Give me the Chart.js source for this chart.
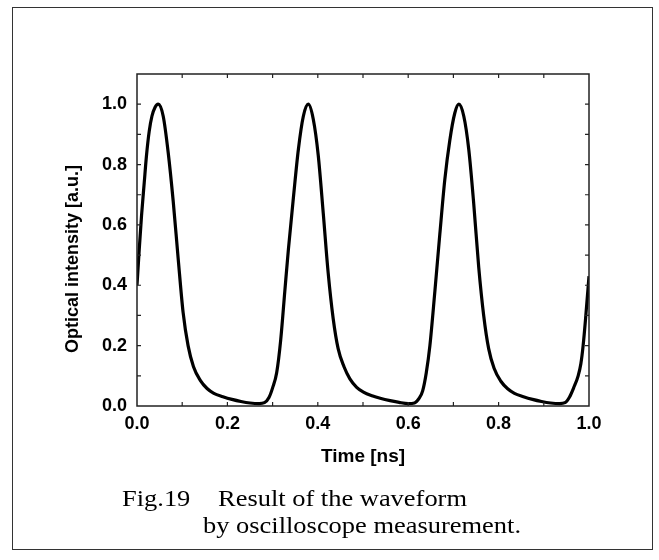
<!DOCTYPE html>
<html>
<head>
<meta charset="utf-8">
<script src="https://cdn.jsdelivr.net/npm/chart.js@4.4.1/dist/chart.umd.min.js"></script>
<style>
  body { margin: 0; background: #fff; }
  #wrap { position: relative; width: 659px; height: 560px; overflow: hidden; }
  #box { position: absolute; left: 12px; top: 7px; width: 639px; height: 541px; border: 1.5px solid #333; }
  canvas { position: absolute; left: 0; top: 0; }
  .cap { position: absolute; font-family: "Liberation Serif", "Times New Roman", serif; font-size: 23px; color: #000;
         white-space: nowrap; line-height: 1; transform: scaleX(1.15); transform-origin: left center; }
</style>
</head>
<body>
<div id="wrap">
  <div id="box"></div>
  <canvas id="waveChart" width="659" height="560"></canvas>
  <div class="cap" style="left:122px; top:487px;">Fig.19</div>
  <div class="cap" style="left:218px; top:487px;">Result of the waveform</div>
  <div class="cap" style="left:203px; top:514px;">by oscilloscope measurement.</div>
</div>
<script>
// waveform
const timeNs = [
  0.000, 0.005, 0.010, 0.016, 0.021, 0.027, 0.033, 0.040, 0.047,
  0.058, 0.069, 0.080, 0.091, 0.102, 0.113, 0.125, 0.140, 0.155, 0.170,
  0.190, 0.210, 0.230, 0.250, 0.270, 0.282, 0.292, 0.300, 0.309, 0.318,
  0.327, 0.335, 0.346, 0.357, 0.368, 0.379,
  0.390, 0.401, 0.412, 0.423, 0.434, 0.445, 0.458, 0.471, 0.486, 0.501,
  0.520, 0.540, 0.560, 0.580, 0.600, 0.614, 0.624, 0.632, 0.640, 0.648,
  0.659, 0.670, 0.681, 0.692, 0.703, 0.712,
  0.723, 0.734, 0.745, 0.756, 0.767, 0.778, 0.790, 0.805, 0.820, 0.835,
  0.855, 0.875, 0.895, 0.915, 0.935, 0.947, 0.957, 0.966, 0.976, 0.982,
  0.987, 0.993, 1.000
];
const intensity = [
  0.40, 0.52, 0.63, 0.74, 0.83, 0.91, 0.96, 0.99, 1.00,
  0.96, 0.84, 0.68, 0.49, 0.31, 0.20, 0.13, 0.085, 0.058, 0.042,
  0.031, 0.022, 0.015, 0.010, 0.008, 0.011, 0.028, 0.06, 0.11, 0.22,
  0.38, 0.52, 0.69, 0.85, 0.96, 1.00,
  0.95, 0.83, 0.64, 0.44, 0.29, 0.19, 0.13, 0.09, 0.062, 0.046,
  0.034, 0.025, 0.018, 0.012, 0.008, 0.010, 0.025, 0.05, 0.11, 0.20,
  0.38, 0.57, 0.75, 0.88, 0.97, 1.00,
  0.96, 0.85, 0.67, 0.46, 0.30, 0.19, 0.125, 0.082, 0.057, 0.042,
  0.031, 0.022, 0.015, 0.010, 0.008, 0.011, 0.03, 0.06, 0.10, 0.14,
  0.20, 0.30, 0.43
];
const xTitle = 'Time [ns]';
const yTitle = 'Optical intensity [a.u.]';

const fontFamily = 'Liberation Sans, Arial, sans-serif';
const tickFont = { family: fontFamily, size: 18, weight: 'bold' };
const titleFont = { family: fontFamily, size: 19, weight: 'bold' };

// every 0.1 gets a tick mark, only every 0.2 gets a number
function evenLabel(v) {
  const n = Math.round(v * 10);
  if (n % 2 !== 0 || n > 10) return '';
  return (n / 10).toFixed(1);
}

// closed frame with short inward ticks on all four sides, plus the y title
const framePlugin = {
  id: 'frame',
  afterDraw(chart) {
    const { ctx, chartArea: a, scales } = chart;
    const len = 4;
    ctx.save();
    ctx.strokeStyle = '#222';
    ctx.lineWidth = 1.5;
    ctx.strokeRect(a.left, a.top, a.right - a.left, a.bottom - a.top);
    ctx.lineWidth = 1.2;
    ctx.beginPath();
    scales.x.ticks.forEach(t => {
      if (t.value <= scales.x.min || t.value >= scales.x.max) return;
      const px = scales.x.getPixelForValue(t.value);
      ctx.moveTo(px, a.bottom); ctx.lineTo(px, a.bottom - len);
      ctx.moveTo(px, a.top); ctx.lineTo(px, a.top + len);
    });
    scales.y.ticks.forEach(t => {
      if (t.value <= scales.y.min || t.value >= scales.y.max) return;
      const py = scales.y.getPixelForValue(t.value);
      ctx.moveTo(a.left, py); ctx.lineTo(a.left + len, py);
      ctx.moveTo(a.right, py); ctx.lineTo(a.right - len, py);
    });
    ctx.stroke();

    // y title sits a bit below the middle of the axis in the original
    ctx.translate(73, 259);
    ctx.rotate(-Math.PI / 2);
    ctx.fillStyle = '#000';
    ctx.font = 'bold 18px ' + fontFamily;
    ctx.textAlign = 'center';
    ctx.textBaseline = 'middle';
    ctx.fillText(yTitle, 0, 0);
    ctx.restore();
  }
};

const ctx = document.getElementById('waveChart').getContext('2d');
const chart = new Chart(ctx, {
  type: 'line',
  data: {
    datasets: [{
      data: timeNs.map((t, i) => ({ x: t, y: intensity[i] })),
      borderColor: '#000',
      borderWidth: 3.2,
      pointRadius: 0,
      fill: false,
      cubicInterpolationMode: 'monotone'
    }]
  },
  options: {
    responsive: false,
    animation: false,
    events: [],
    layout: { padding: { left: 62, right: 70, top: 74, bottom: 92 } },
    plugins: { legend: { display: false }, tooltip: { enabled: false } },
    scales: {
      x: {
        type: 'linear',
        min: 0,
        max: 1,
        border: { display: false },
        grid: { display: false, drawTicks: false },
        ticks: { stepSize: 0.1, autoSkip: false, maxRotation: 0, padding: 7, color: '#000', font: tickFont, callback: evenLabel },
        title: { display: true, text: xTitle, color: '#000', font: titleFont, padding: 0 },
        afterFit(scale) { scale.height = 62; }
      },
      y: {
        min: 0,
        max: 1.1,
        border: { display: false },
        grid: { display: false, drawTicks: false },
        ticks: { stepSize: 0.1, autoSkip: false, padding: 10, color: '#000', font: tickFont, callback: evenLabel },
        title: { display: false },
        afterFit(scale) { scale.width = 75; }
      }
    }
  },
  plugins: [framePlugin]
});
</script>
</body>
</html>
